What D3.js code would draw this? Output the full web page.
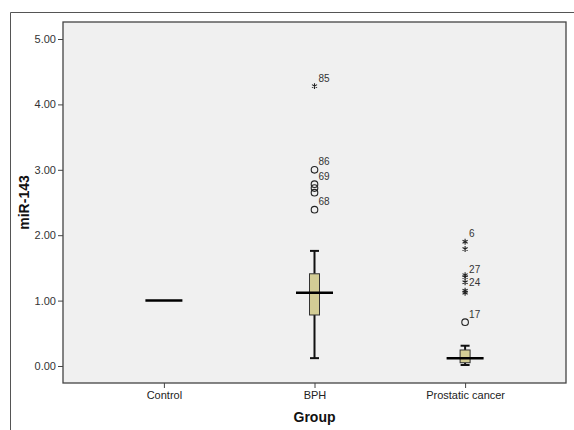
<!DOCTYPE html>
<html>
<head>
<meta charset="utf-8">
<script src="https://cdn.jsdelivr.net/npm/d3@7"></script>
<style>
  body { margin: 0; background: #fff; }
  svg { display: block; font-family: Arial, "Liberation Sans", sans-serif; }
</style>
</head>
<body>
<svg id="chart" width="574" height="430"></svg>
<script>
// groups on the x axis
const groups = ["Control", "BPH", "Prostatic cancer"];
const yTicks = [0, 1, 2, 3, 4, 5];

// box statistics per group: whisker low, q1, median, q3, whisker high
const whiskerLow = [1.0, 0.12, 0.015];
const q1 = [1.0, 0.78, 0.05];
const median = [1.0, 1.12, 0.12];
const q3 = [1.0, 1.41, 0.245];
const whiskerHigh = [1.0, 1.76, 0.31];

// outliers: circles are mild, stars are extreme
const outlierGroup = ["BPH", "BPH", "BPH", "BPH", "BPH", "BPH",
  "Prostatic cancer", "Prostatic cancer", "Prostatic cancer", "Prostatic cancer",
  "Prostatic cancer", "Prostatic cancer", "Prostatic cancer", "Prostatic cancer"];
const outlierValue = [4.28, 3.0, 2.78, 2.72, 2.65, 2.39,
  1.9, 1.79, 1.39, 1.36, 1.28, 1.15, 1.12, 0.67];
const outlierKind = ["star", "circle", "circle", "circle", "circle", "circle",
  "star", "star", "star", "star", "star", "star", "star", "circle"];
const outlierLabel = ["85", "86", "69", "", "", "68",
  "6", "", "", "27", "", "24", "", "17"];

const margin = { top: 22, right: 8, bottom: 47, left: 63 };
const width = 574 - margin.left - margin.right;
const height = 430 - margin.top - margin.bottom;

const svg = d3.select("#chart");

// outer frame (only left and top are visible)
svg.append("path")
  .attr("d", "M10.5,430 V12.5 H574")
  .attr("fill", "none")
  .attr("stroke", "#555")
  .attr("stroke-width", 1);

const g = svg.append("g")
  .attr("transform", `translate(${margin.left},${margin.top})`);

const x = d3.scalePoint()
  .domain(groups)
  .range([0, width])
  .padding(0.67);

const y = d3.scaleLinear()
  .domain([-0.26, 5.26])
  .range([height, 0]);

g.append("rect")
  .attr("x", 0)
  .attr("y", 0)
  .attr("width", width)
  .attr("height", height)
  .attr("fill", "#f0f0f0")
  .attr("stroke", "#444")
  .attr("stroke-width", 1.3);

// Y axis
const yAxis = g.append("g")
  .call(d3.axisLeft(y).tickValues(yTicks).tickFormat(d3.format(".2f")).tickSize(5).tickPadding(2));
yAxis.select(".domain").remove();
yAxis.selectAll("line").attr("stroke", "#444");
yAxis.selectAll("text").attr("font-size", 11).attr("fill", "#333").attr("font-family", "Arial, sans-serif");

// X axis
const xAxis = g.append("g")
  .attr("transform", `translate(0,${height})`)
  .call(d3.axisBottom(x).tickSize(5).tickPadding(3));
xAxis.select(".domain").remove();
xAxis.selectAll("line").attr("stroke", "#444");
xAxis.selectAll("text").attr("font-size", 11).attr("fill", "#222").attr("font-family", "Arial, sans-serif");

// axis titles
svg.append("text")
  .attr("transform", `translate(29,${margin.top + height / 2}) rotate(-90)`)
  .attr("text-anchor", "middle")
  .attr("font-size", 14)
  .attr("font-weight", "bold")
  .attr("fill", "#111")
  .text("miR-143");

svg.append("text")
  .attr("x", margin.left + width / 2)
  .attr("y", 422)
  .attr("text-anchor", "middle")
  .attr("font-size", 14)
  .attr("font-weight", "bold")
  .attr("fill", "#111")
  .text("Group");

// boxes
const boxW = 10;
const capW = 9;
const medW = 37;

groups.forEach((grp, i) => {
  const cx = x(grp);
  const flat = q1[i] === q3[i];
  if (!flat) {
    // whiskers
    g.append("line")
      .attr("x1", cx).attr("x2", cx)
      .attr("y1", y(whiskerHigh[i])).attr("y2", y(q3[i]))
      .attr("stroke", "#111").attr("stroke-width", 2);
    g.append("line")
      .attr("x1", cx).attr("x2", cx)
      .attr("y1", y(q1[i])).attr("y2", y(whiskerLow[i]))
      .attr("stroke", "#111").attr("stroke-width", 2);
    [whiskerHigh[i], whiskerLow[i]].forEach((v) => {
      g.append("line")
        .attr("x1", cx - capW / 2).attr("x2", cx + capW / 2)
        .attr("y1", y(v)).attr("y2", y(v))
        .attr("stroke", "#111").attr("stroke-width", 2);
    });
    g.append("rect")
      .attr("x", cx - boxW / 2)
      .attr("y", y(q3[i]))
      .attr("width", boxW)
      .attr("height", y(q1[i]) - y(q3[i]))
      .attr("fill", "#d3cd95")
      .attr("stroke", "#333")
      .attr("stroke-width", 1);
  }
  // median
  g.append("line")
    .attr("x1", cx - medW / 2).attr("x2", cx + medW / 2)
    .attr("y1", y(median[i])).attr("y2", y(median[i]))
    .attr("stroke", "#000").attr("stroke-width", 2.5);
});

// outliers
const starSym = d3.symbol().type(d3.symbolAsterisk).size(24);
outlierValue.forEach((v, i) => {
  const cx = x(outlierGroup[i]);
  const cy = y(v);
  if (outlierKind[i] === "circle") {
    g.append("circle")
      .attr("cx", cx).attr("cy", cy).attr("r", 3.3)
      .attr("fill", "none").attr("stroke", "#222").attr("stroke-width", 1.1);
  } else {
    g.append("path")
      .attr("transform", `translate(${cx},${cy})`)
      .attr("d", starSym())
      .attr("fill", "none").attr("stroke", "#222").attr("stroke-width", 1.1);
  }
  if (outlierLabel[i]) {
    g.append("text")
      .attr("x", cx + 4)
      .attr("y", cy - 4.5)
      .attr("font-size", 10)
      .attr("fill", "#333")
      .text(outlierLabel[i]);
  }
});
</script>
</body>
</html>
